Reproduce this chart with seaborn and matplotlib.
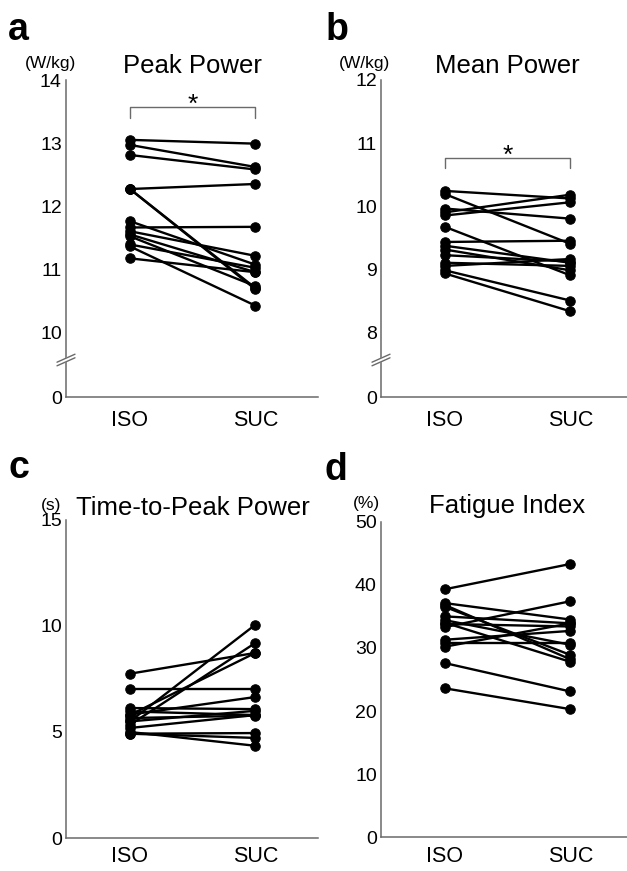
"""Paired ISO vs SUC plots, four panels (peak/mean power, time-to-peak, fatigue)."""

import numpy as np
import pandas as pd
import matplotlib
matplotlib.use("Agg")
import matplotlib.pyplot as plt
import seaborn as sns

W, H = 627, 871
INK = "#000000"
AXIS = "#6a6a6a"

CONDITIONS = ["ISO", "SUC"]

# ── data (one value per subject, same order in both lists) ──────────────
peak_iso = [13.05, 12.97, 12.81, 12.27, 12.27, 12.27, 11.76, 11.66, 11.60, 11.55, 11.52, 11.39, 11.36, 11.17]
peak_suc = [12.99, 12.62, 12.58, 12.35, 10.70, 10.68, 11.07, 11.67, 11.21, 10.95, 10.73, 11.02, 10.42, 10.95]

mean_iso = [10.24, 10.19, 9.90, 9.96, 9.85, 9.67, 9.43, 9.37, 9.31, 9.22, 9.10, 9.05, 8.98, 8.93]
mean_suc = [10.12, 9.40, 10.18, 9.80, 10.06, 8.90, 9.45, 9.10, 8.98, 9.12, 9.05, 9.16, 8.50, 8.33]

ttp_iso = [7.75, 7.03, 5.50, 5.34, 5.80, 6.13, 5.97, 5.82, 5.66, 5.50, 5.19, 4.92, 4.92, 5.00]
ttp_suc = [8.73, 7.03, 10.06, 9.20, 8.73, 6.08, 5.80, 6.65, 5.77, 6.00, 5.80, 4.95, 4.72, 4.35]

fat_iso = [39.3, 37.1, 36.5, 36.8, 35.0, 34.4, 33.8, 33.3, 31.3, 30.2, 30.8, 34.0, 27.6, 23.6]
fat_suc = [43.3, 34.5, 28.9, 28.2, 33.9, 30.5, 33.4, 37.4, 32.7, 33.9, 30.8, 27.8, 23.1, 20.3]

peak_ticks = [0, 10, 11, 12, 13, 14]
mean_ticks = [0, 8, 9, 10, 11, 12]
ttp_ticks = [0, 5, 10, 15]
fat_ticks = [0, 10, 20, 30, 40, 50]


def px(x, y):
    return x / W, 1 - y / H


def broken_scale(low, gap):
    # values below `low` get squeezed into `gap` axis units (axis break)
    def fwd(v):
        v = np.asarray(v, float)
        return np.where(v >= low, v, low - gap * (low - v) / low)

    def inv(u):
        u = np.asarray(u, float)
        return np.where(u >= low, u, low - (low - u) * low / gap)

    return fwd, inv


def long_frame(iso, suc):
    n = len(iso)
    return pd.DataFrame({
        "subject": np.tile(np.arange(n), 2),
        "cond": np.repeat([0, 1], n),
        "value": np.concatenate([iso, suc]),
    })


def panel(ax, iso, suc, ticks, xpad=9, xmax=1.5):
    sns.lineplot(
        data=long_frame(iso, suc), x="cond", y="value", units="subject",
        estimator=None, color=INK, lw=1.7, marker="o", ms=6.8,
        mec=INK, mfc=INK, ax=ax, clip_on=False,
    )
    ax.set_xlim(-0.51, xmax)
    ax.set_ylim(ticks[0], ticks[-1])
    ax.set_xticks([0, 1], CONDITIONS)
    ax.set_yticks(ticks, [str(t) for t in ticks])
    ax.set_xlabel("")
    ax.set_ylabel("")
    ax.tick_params(axis="x", length=0, labelsize=15.5, pad=xpad)
    ax.tick_params(axis="y", length=0, labelsize=14, pad=3)
    sns.despine(ax=ax)
    for s in ("left", "bottom"):
        ax.spines[s].set_color(AXIS)
        ax.spines[s].set_linewidth(1.1)


def break_marks(ax, yfrac, wpx, hpx):
    dx, dy, g = 9 / wpx, 4 / hpx, 1.8 / hpx
    xs = [-dx, dx]
    kw = dict(transform=ax.transAxes, clip_on=False)
    ax.plot(xs, [yfrac - dy, yfrac + dy], color="white", lw=3.0, zorder=5, **kw)
    for off in (-g, g):
        ax.plot(xs, [yfrac - dy + off, yfrac + dy + off], color=AXIS, lw=1.0, zorder=6, **kw)


def bracket(ax, y_low, y_high, y_star):
    ax.plot([0, 0, 1, 1], [y_low, y_high, y_high, y_low], color=AXIS, lw=1.0, clip_on=False)
    ax.text(0.5, y_star, "*", ha="center", va="baseline", fontsize=19, color=INK)


sns.set_style("white")
plt.rcParams["font.family"] = ["Liberation Sans", "DejaVu Sans"]
plt.rcParams["text.color"] = INK
plt.rcParams["xtick.color"] = INK
plt.rcParams["ytick.color"] = INK

fig = plt.figure(figsize=(W / 100, H / 100), dpi=100, facecolor="white")

# axes boxes in pixels: left, top, right, bottom
def add_axes(l, t, r, b):
    return fig.add_axes([l / W, 1 - b / H, (r - l) / W, (b - t) / H])

ax_a = add_axes(66, 80, 318, 397)
ax_b = add_axes(381, 80, 633, 397)
ax_c = add_axes(66, 520, 318, 838)
ax_d = add_axes(381, 521.7, 633, 837.3)

ax_a.set_yscale("function", functions=broken_scale(10, 1.03))
ax_b.set_yscale("function", functions=broken_scale(8, 1.03))

panel(ax_a, peak_iso, peak_suc, peak_ticks)
panel(ax_b, mean_iso, mean_suc, mean_ticks)
panel(ax_c, ttp_iso, ttp_suc, ttp_ticks, xpad=6)
panel(ax_d, fat_iso, fat_suc, fat_ticks, xpad=6)

break_marks(ax_a, (397 - 360) / 317, 252, 317)
break_marks(ax_b, (397 - 360) / 317, 252, 317)

bracket(ax_a, 13.40, 13.576, 13.50)
bracket(ax_b, 10.60, 10.76, 10.69)

# panel letters, titles, units
for letter, (x, y) in zip("abcd", [(8, 40), (326, 40), (8, 478), (325, 480)]):
    fig.text(*px(x, y), letter, fontsize=27, fontweight="bold", ha="left", va="baseline")

titles = [("Peak Power", 192, 73), ("Mean Power", 507, 73),
          ("Time-to-Peak Power", 193, 515), ("Fatigue Index", 507, 513)]
for t, x, y in titles:
    fig.text(*px(x, y), t, fontsize=18.5, ha="center", va="baseline")

units = [("(W/kg)", 51, 68), ("(W/kg)", 365, 68), ("(s)", 51, 510), ("(%)", 366, 508)]
for u, x, y in units:
    fig.text(*px(x, y), u, fontsize=12.5, ha="center", va="baseline")

fig.savefig("out.png", dpi=100, facecolor="white")
